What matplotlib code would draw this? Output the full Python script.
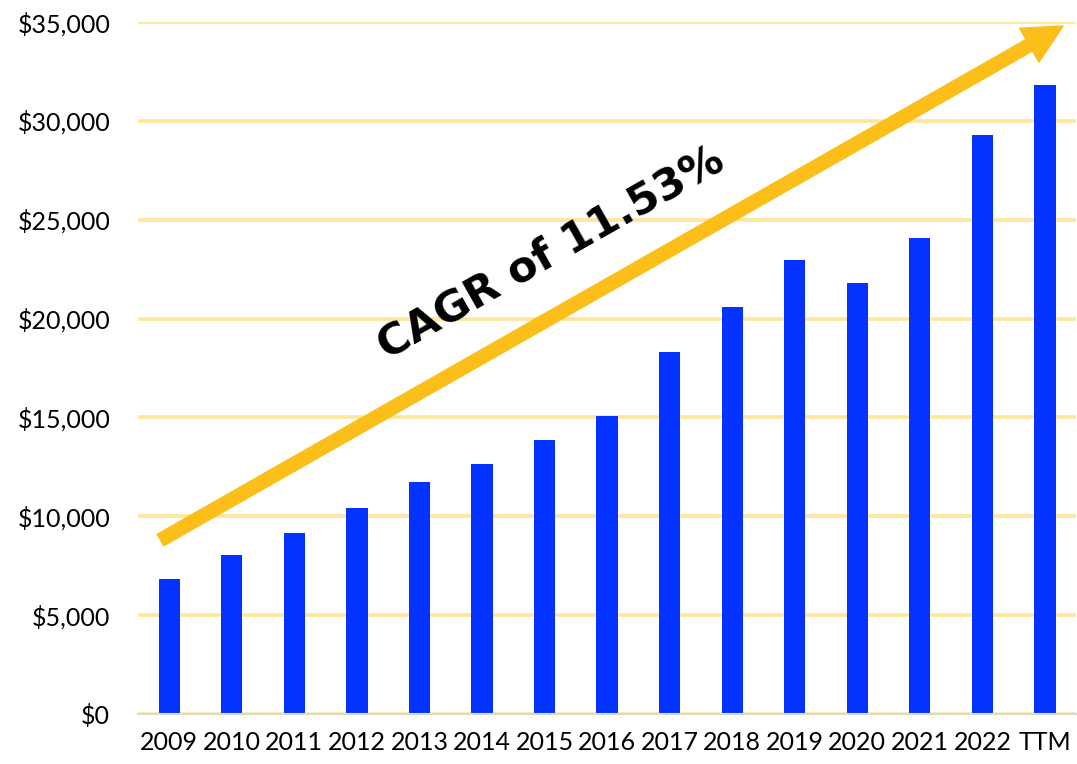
import matplotlib
matplotlib.use("Agg")
import matplotlib.pyplot as plt
from matplotlib.patches import FancyArrowPatch
from matplotlib.ticker import FuncFormatter, MultipleLocator

categories = ["2009", "2010", "2011", "2012", "2013", "2014", "2015", "2016",
              "2017", "2018", "2019", "2020", "2021", "2022", "TTM"]
values = [6850, 8050, 9150, 10400, 11750, 12650, 13850, 15050,
          18300, 20600, 22950, 21800, 24100, 29300, 31800]
annotation_text = "CAGR of 11.53%"

fig = plt.figure(figsize=(10.77, 7.64), dpi=100)
ax = fig.add_axes([0.1281, 0.0654, 0.8712, 0.9058])

x = list(range(len(categories)))
ax.bar(x, values, width=0.34, color="#0433FF", zorder=3)

ax.set_xlim(-0.5, len(categories) - 0.5)
ax.set_ylim(0, 35000)
ax.yaxis.set_major_locator(MultipleLocator(5000))
ax.yaxis.set_major_formatter(FuncFormatter(lambda v, p: f"${v:,.0f}"))
ax.set_xticks(x)
ax.set_xticklabels(categories)

ax.grid(axis="y", color="#FFE699", linewidth=2.6, zorder=0)
ax.set_axisbelow(True)
for s in ["left", "top", "right"]:
    ax.spines[s].set_visible(False)
ax.spines["bottom"].set_color("#D9D9D9")
ax.spines["bottom"].set_linewidth(1.5)
ax.spines["bottom"].set_zorder(4)

ax.tick_params(axis="both", length=0, labelsize=18, colors="black")
ax.tick_params(axis="y", pad=20)
ax.tick_params(axis="x", pad=12)
for lab in ax.get_xticklabels() + ax.get_yticklabels():
    lab.set_fontfamily("Lato")

arrow = FancyArrowPatch(posA=(-0.14, 8800), posB=(14.29, 34800),
                        arrowstyle="simple,head_length=28,head_width=28,tail_width=9.5",
                        mutation_scale=1, color="#FCBE18", shrinkA=0, shrinkB=0,
                        zorder=5, clip_on=False)
ax.add_patch(arrow)

ax.text(6.1, 23300, annotation_text, rotation=29.5, ha="center", va="center",
        fontsize=31, fontweight="bold", family="DejaVu Sans",
        color="black", zorder=6, rotation_mode="anchor")

fig.savefig("out.png", dpi=100)
